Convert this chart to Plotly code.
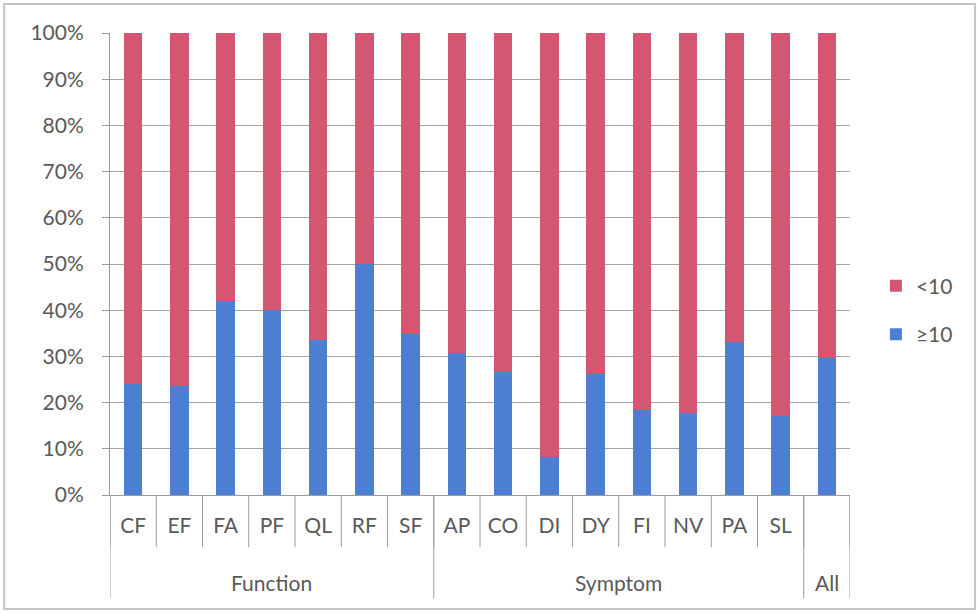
import plotly.graph_objects as go

group_names = ["Function", "Symptom", "All"]
group_sizes = [7, 8, 1]
categories = ["CF", "EF", "FA", "PF", "QL", "RF", "SF",
              "AP", "CO", "DI", "DY", "FI", "NV", "PA", "SL", "All"]
inner_labels = ["CF", "EF", "FA", "PF", "QL", "RF", "SF",
                "AP", "CO", "DI", "DY", "FI", "NV", "PA", "SL", ""]
ge10 = [24.0, 23.7, 42.1, 40.0, 33.5, 50.0, 34.8,
        30.8, 26.7, 8.3, 26.1, 18.5, 17.7, 33.2, 17.1, 29.6]
lt10 = [100 - v for v in ge10]
series_names = ["≥10", "<10"]
yticks = [0, 10, 20, 30, 40, 50, 60, 70, 80, 90, 100]

blue = "#4C7FD2"
red = "#D45670"
txt = "#595959"
axc = "#9a9a9a"
font = "Lato, 'Open Sans', sans-serif"
fs = 21

fig = go.Figure()
fig.add_trace(go.Bar(x=categories, y=ge10, name=series_names[0], legendgroup="ge",
                     marker=dict(color=blue, line=dict(width=0)), legendrank=2))
fig.add_trace(go.Bar(x=categories, y=lt10, name=series_names[1], legendgroup="lt",
                     marker=dict(color=red, line=dict(width=0)), legendrank=1))

shapes = []
annotations = []
n = len(categories)
# inner boundaries (short lines between categories)
for i in range(n + 1):
    shapes.append(dict(type="line", xref="x", yref="paper", x0=i - 0.5, x1=i - 0.5,
                       y0=0, y1=-0.113, line=dict(color=axc, width=1)))
# group boundaries (long lines) and group labels
start = 0
bounds = [0]
for name, size in zip(group_names, group_sizes):
    annotations.append(dict(x=start + (size - 1) / 2, y=-0.19, xref="x", yref="paper",
                            text=name, showarrow=False, yanchor="middle",
                            font=dict(size=fs, color=txt, family=font)))
    start += size
    bounds.append(start)
for b in bounds:
    shapes.append(dict(type="line", xref="x", yref="paper", x0=b - 0.5, x1=b - 0.5,
                       y0=0, y1=-0.223, line=dict(color=axc, width=1)))
# outer frame
shapes.append(dict(type="rect", xref="paper", yref="paper", x0=-0.143, x1=1.169,
                   y0=-0.247, y1=1.063, line=dict(color="#c4c4c4", width=2)))

fig.update_layout(
    barmode="stack",
    bargap=0.6,
    width=978, height=613,
    margin=dict(l=110, r=128, t=33, b=118),
    paper_bgcolor="white", plot_bgcolor="white",
    font=dict(family=font, size=fs, color=txt),
    legend=dict(x=1.035, y=0.40, xanchor="left", yanchor="middle",
                itemwidth=30, tracegroupgap=18, traceorder="grouped",
                font=dict(size=fs, color=txt)),
    xaxis=dict(type="category", tickvals=categories, ticktext=inner_labels,
               showline=True, linecolor=axc, linewidth=1, ticks="",
               ticklabelstandoff=12, tickfont=dict(size=fs, color=txt),
               showgrid=False, range=[-0.5, n - 0.5]),
    yaxis=dict(range=[0, 100], tickvals=yticks,
               ticktext=[f"{v}%" for v in yticks],
               showgrid=True, gridcolor="#a4a4a4", gridwidth=1,
               showline=True, linecolor=axc, ticks="outside", ticklen=7,
               tickcolor=axc, ticklabelstandoff=14,
               tickfont=dict(size=fs, color=txt), zeroline=False),
    shapes=shapes,
    annotations=annotations,
)

fig.write_html("out.html")
